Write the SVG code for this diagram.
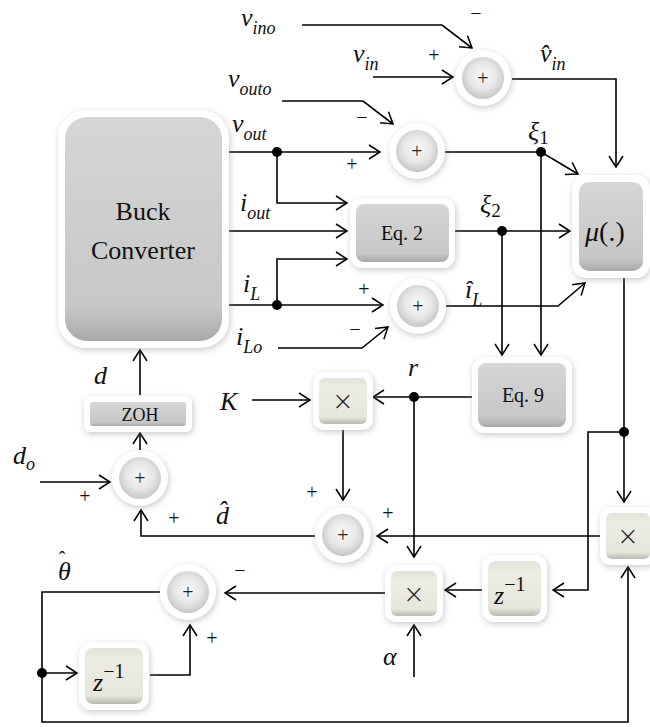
<svg xmlns="http://www.w3.org/2000/svg" width="650" height="727" viewBox="0 0 650 727">
<defs>
<filter id="sh" x="-30%" y="-30%" width="160%" height="160%">
<feGaussianBlur in="SourceAlpha" stdDeviation="3"/>
<feOffset dx="1" dy="2" result="b"/>
<feFlood flood-color="#888" flood-opacity="0.45"/>
<feComposite in2="b" operator="in"/>
<feMerge><feMergeNode/><feMergeNode in="SourceGraphic"/></feMerge>
</filter>
<linearGradient id="gray" x1="0" y1="0" x2="0" y2="1">
<stop offset="0" stop-color="#d6d6d6"/><stop offset="0.85" stop-color="#c7c7c7"/><stop offset="1" stop-color="#a9a9a9"/>
</linearGradient>
<linearGradient id="beige" x1="0" y1="0" x2="0" y2="1">
<stop offset="0" stop-color="#e2e2da"/><stop offset="0.2" stop-color="#ecece2"/><stop offset="0.85" stop-color="#e6e6dc"/><stop offset="1" stop-color="#b8b8b0"/>
</linearGradient>
<radialGradient id="ball" cx="0.5" cy="0.45" r="0.55">
<stop offset="0" stop-color="#fafafa"/><stop offset="0.6" stop-color="#e6e6e6"/><stop offset="1" stop-color="#c6c6c6"/>
</radialGradient>
<marker id="ar" markerUnits="userSpaceOnUse" markerWidth="14" markerHeight="16" refX="12" refY="8" orient="auto">
<path d="M1,1 L12,8 L1,15" fill="none" stroke="#000" stroke-width="1.5"/>
</marker>
</defs>
<style>
.c{fill:none;stroke:#000;stroke-width:1.6;marker-end:url(#ar)}
.o{fill:#fff;filter:url(#sh)}
.g{fill:url(#gray)}
.b{fill:url(#beige)}
.s{fill:url(#ball)}
.t{font-family:"Liberation Serif",serif;fill:#111;text-anchor:middle}
.x{font-family:"DejaVu Sans",sans-serif;font-weight:200;fill:#222;text-anchor:middle;font-size:26px}
.m{font-family:"Liberation Serif",serif;font-style:italic;fill:#111}
.sg{font-family:"Liberation Serif",serif;font-size:20px;fill:#111;text-anchor:middle}
.ps{font-family:"Liberation Serif",serif;font-size:20px;fill:#222;text-anchor:middle}
</style>
<rect width="650" height="727" fill="#fff"/>

<g id="connectors">
<path class="c" d="M302,25 H442 L472,48"/>
<path class="c" d="M373,77 H453"/>
<path class="c" d="M512,79 H616 V167"/>
<path class="c" d="M282,101 H363 L393,124"/>
<path class="c" d="M225,152 H380"/>
<path class="c" d="M277,152 V203 H347"/>
<path class="c" d="M225,231 H347"/>
<path class="c" d="M277,305 V259 H347"/>
<path class="c" d="M225,305 H383"/>
<path class="c" d="M278,348 H362 L388,327"/>
<path class="c" d="M445,152 H541 L578,174"/>
<path class="c" d="M541,152 V355"/>
<path class="c" d="M455,231 H570"/>
<path class="c" d="M502,231 V355"/>
<path class="c" d="M446,306 H558 L585,283"/>
<path class="c" d="M624,278 V502"/>
<path class="c" d="M624,432 H588 V590 H553"/>
<path class="c" d="M472,397 H373"/>
<path class="c" d="M414,397 V557"/>
<path class="c" d="M252,400 H310"/>
<path class="c" d="M343,430 V500"/>
<path class="c" d="M600,536 H377"/>
<path class="c" d="M315,536 H141 V510"/>
<path class="c" d="M140,455 V433"/>
<path class="c" d="M140,395 V350"/>
<path class="c" d="M40,482 H110"/>
<path class="c" d="M482,590 H445"/>
<path class="c" d="M414,677 V625"/>
<path class="c" d="M385,593 H225"/>
<path class="c" d="M160,592 H42 V722 H628 V567"/>
<path class="c" d="M42,673 H77"/>
<path class="c" d="M150,675 H190 V625"/>
<g fill="#000">
<circle cx="277" cy="152" r="5"/><circle cx="277" cy="305" r="5"/><circle cx="541" cy="152" r="5"/>
<circle cx="502" cy="231" r="5"/><circle cx="414" cy="397" r="5"/><circle cx="624" cy="432" r="5"/>
<circle cx="42" cy="673" r="5"/>
</g>
</g>

<g id="buck">
<rect class="o" x="58" y="110" width="171" height="238" rx="28"/>
<rect class="g" x="65" y="117" width="157" height="224" rx="22"/>
<text class="t" x="143" y="220" font-size="26">Buck</text>
<text class="t" x="143" y="259" font-size="26">Converter</text>
</g>

<g id="eq2">
<rect class="o" x="350" y="198" width="105" height="70" rx="12"/>
<rect class="g" x="356" y="204" width="93" height="58" rx="8"/>
<text class="t" x="402" y="240" font-size="20">Eq. 2</text>
</g>

<g id="mu">
<rect class="o" x="572" y="175" width="78" height="103" rx="14"/>
<rect class="g" x="579" y="182" width="64" height="89" rx="10"/>
<text class="m" x="585" y="241" font-size="28">μ<tspan font-style="normal">(.)</tspan></text>
</g>

<g id="eq9">
<rect class="o" x="472" y="357" width="100" height="76" rx="12"/>
<rect class="g" x="478" y="363" width="88" height="64" rx="8"/>
<text class="t" x="523" y="402" font-size="20">Eq. 9</text>
</g>

<g id="zoh">
<rect class="o" x="84" y="396" width="108" height="36" rx="6"/>
<rect class="g" x="90" y="402" width="96" height="24" rx="3"/>
<text class="t" x="140" y="421" font-size="18">ZOH</text>
</g>

<g id="mulK">
<rect class="o" x="313" y="372" width="60" height="58" rx="10"/>
<rect class="b" x="319" y="378" width="48" height="46" rx="6"/>
<text class="x" x="343" y="410">×</text>
</g>

<g id="mulAlpha">
<rect class="o" x="385" y="565" width="58" height="57" rx="10"/>
<rect class="b" x="391" y="571" width="46" height="45" rx="6"/>
<text class="x" x="414" y="603">×</text>
</g>

<g id="mulRight">
<rect class="o" x="600" y="507" width="56" height="58" rx="10"/>
<rect class="b" x="606" y="513" width="44" height="46" rx="6"/>
<text class="x" x="628" y="545">×</text>
</g>

<g id="zinvRight">
<rect class="o" x="482" y="555" width="65" height="67" rx="12"/>
<rect class="b" x="488" y="561" width="53" height="55" rx="8"/>
<text class="m" x="494" y="604" font-size="26">z<tspan dy="-13" font-size="20" font-style="normal">−1</tspan></text>
</g>

<g id="zinvLeft">
<rect class="o" x="79" y="642" width="70" height="68" rx="12"/>
<rect class="b" x="85" y="648" width="58" height="56" rx="8"/>
<text class="m" x="93" y="691" font-size="26">z<tspan dy="-13" font-size="20" font-style="normal">−1</tspan></text>
</g>

<g id="sum1"><circle class="o" cx="483" cy="78" r="28"/><circle class="s" cx="483" cy="78" r="21"/><text class="ps" x="483" y="85">+</text></g>
<g id="sum2"><circle class="o" cx="417" cy="151" r="28"/><circle class="s" cx="417" cy="151" r="21"/><text class="ps" x="417" y="158">+</text></g>
<g id="sum3"><circle class="o" cx="418" cy="306" r="28"/><circle class="s" cx="418" cy="306" r="21"/><text class="ps" x="418" y="313">+</text></g>
<g id="sum4"><circle class="o" cx="343" cy="535" r="28"/><circle class="s" cx="343" cy="535" r="21"/><text class="ps" x="343" y="542">+</text></g>
<g id="sum5"><circle class="o" cx="140" cy="478" r="28"/><circle class="s" cx="140" cy="478" r="21"/><text class="ps" x="140" y="485">+</text></g>
<g id="sum6"><circle class="o" cx="188" cy="592" r="28"/><circle class="s" cx="188" cy="592" r="21"/><text class="ps" x="188" y="599">+</text></g>

<g id="labels">
<text class="m" x="241" y="26" font-size="26">v<tspan dy="8" font-size="18">ino</tspan></text>
<text class="m" x="353" y="62" font-size="26">v<tspan dy="8" font-size="18">in</tspan></text>
<text class="m" x="540" y="62" font-size="26">v̂<tspan dy="8" font-size="18">in</tspan></text>
<text class="m" x="228" y="87" font-size="26">v<tspan dy="8" font-size="18">outo</tspan></text>
<text class="m" x="232" y="132" font-size="26">v<tspan dy="8" font-size="18">out</tspan></text>
<text class="m" x="240" y="211" font-size="26">i<tspan dy="8" font-size="18">out</tspan></text>
<text class="m" x="243" y="292" font-size="26">i<tspan dy="8" font-size="18">L</tspan></text>
<text class="m" x="236" y="345" font-size="26">i<tspan dy="8" font-size="18">Lo</tspan></text>
<text class="m" x="465" y="298" font-size="26">î<tspan dy="8" font-size="18">L</tspan></text>
<text class="m" x="528" y="140" font-size="26">ξ<tspan dy="4" font-size="19" font-style="normal">1</tspan></text>
<text class="m" x="480" y="213" font-size="26">ξ<tspan dy="4" font-size="19" font-style="normal">2</tspan></text>
<text class="m" x="408" y="376" font-size="26">r</text>
<text class="m" x="220" y="410" font-size="26">K</text>
<text class="m" x="94" y="384" font-size="26">d</text>
<text class="m" x="13" y="464" font-size="26">d<tspan dy="6" font-size="18">o</tspan></text>
<text class="m" x="216" y="524" font-size="26">d̂</text>
<text class="m" x="58" y="580" font-size="26">θ<tspan dx="-12" dy="-14" font-style="normal" font-size="20">ˆ</tspan></text>
<text class="m" x="383" y="665" font-size="26">α</text>
<text class="sg" x="476" y="20">−</text>
<text class="sg" x="434" y="62">+</text>
<text class="sg" x="362" y="124">−</text>
<text class="sg" x="352" y="171">+</text>
<text class="sg" x="364" y="296">+</text>
<text class="sg" x="355" y="336">−</text>
<text class="sg" x="85" y="503">+</text>
<text class="sg" x="174" y="525">+</text>
<text class="sg" x="312" y="499">+</text>
<text class="sg" x="388" y="520">+</text>
<text class="sg" x="240" y="577">−</text>
<text class="sg" x="212" y="645">+</text>
</g>
</svg>
